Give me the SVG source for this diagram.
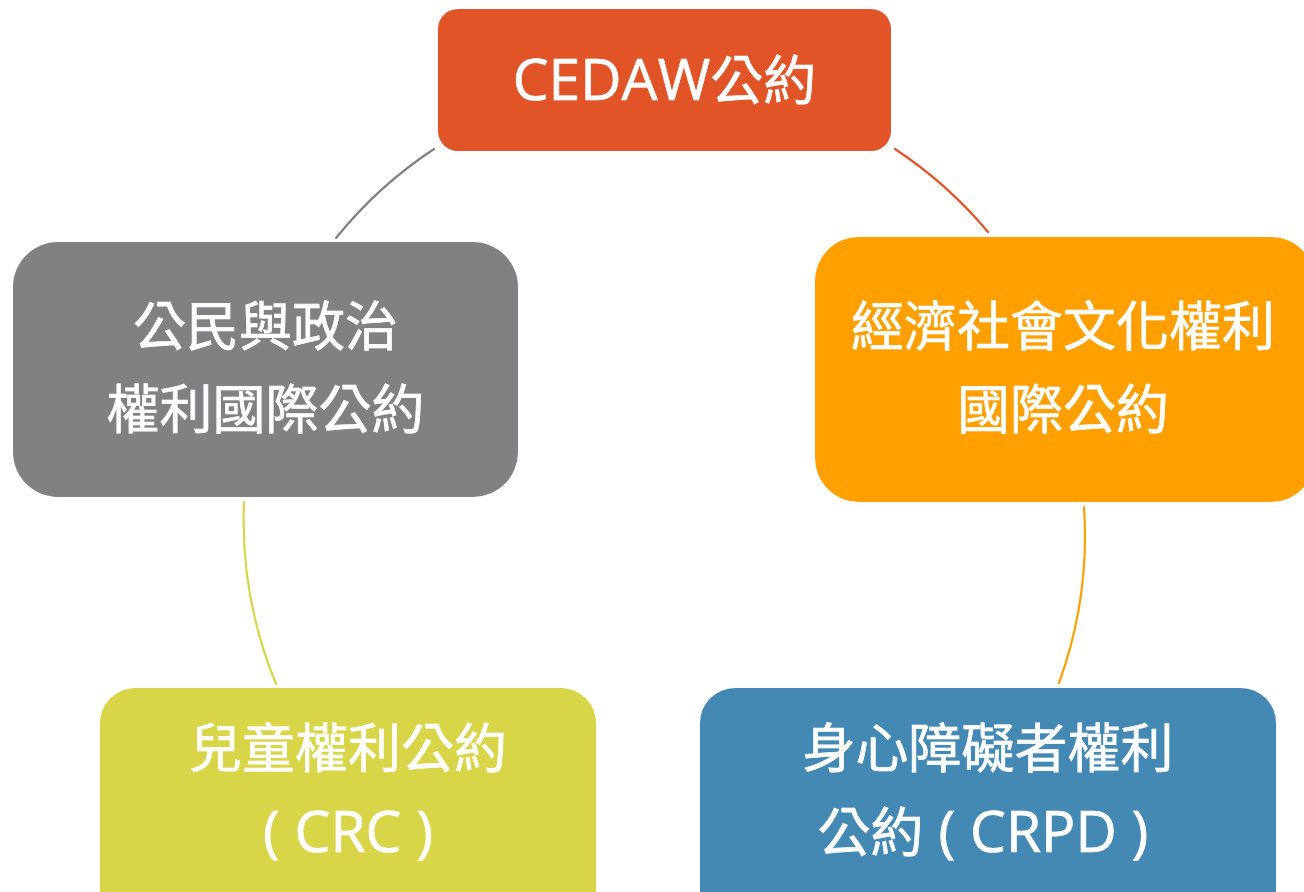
<svg xmlns="http://www.w3.org/2000/svg" width="1304" height="892" viewBox="0 0 1304 892">
<style>
.t{font-family:"Open Sans","Noto Sans CJK TC","Noto Sans CJK SC",sans-serif;font-size:53px;fill:#ffffff;stroke:#ffffff;stroke-width:0.7;text-anchor:middle}
.l{font-size:57px}
.c{fill:none;stroke-width:2.2;stroke-linecap:round}
</style>
<rect width="1304" height="892" fill="#ffffff"/>
<g id="connectors">
<path class="c" stroke="#808080" d="M336,238 A430,430 0 0 1 434,149"/>
<path class="c" stroke="#E05427" d="M895,149 A430,430 0 0 1 988,232"/>
<path class="c" stroke="#FF9F00" d="M1084,507 A430,430 0 0 1 1059,683"/>
<path class="c" stroke="#D9D548" d="M276,684 A430,430 0 0 1 244,502"/>
</g>
<g id="cedaw">
<rect x="438" y="9" width="453" height="142" rx="20" fill="#E05427"/>
<text class="t" x="664.5" y="100"><tspan class="l">CEDAW</tspan>公約</text>
</g>
<g id="icescr">
<rect x="815" y="237" width="500" height="265" rx="44" fill="#FF9F00"/>
<text class="t" x="1063" y="346">經濟社會文化權利</text>
<text class="t" x="1063" y="429">國際公約</text>
</g>
<g id="iccpr">
<rect x="13" y="242" width="505" height="255" rx="45" fill="#818183"/>
<text class="t" x="265.5" y="346">公民與政治</text>
<text class="t" x="265.5" y="429">權利國際公約</text>
</g>
<g id="crc">
<rect x="100" y="688" width="496" height="240" rx="35" fill="#D9D548"/>
<text class="t" x="348" y="768">兒童權利公約</text>
<text class="t" x="348" y="852"><tspan class="l">( CRC )</tspan></text>
</g>
<g id="crpd">
<rect x="700" y="688" width="576" height="240" rx="35" fill="#4389B4"/>
<text class="t" x="983" y="852">公約<tspan class="l"> ( CRPD )</tspan></text>
<text class="t" x="988" y="768">身心障礙者權利</text>
</g>
</svg>
